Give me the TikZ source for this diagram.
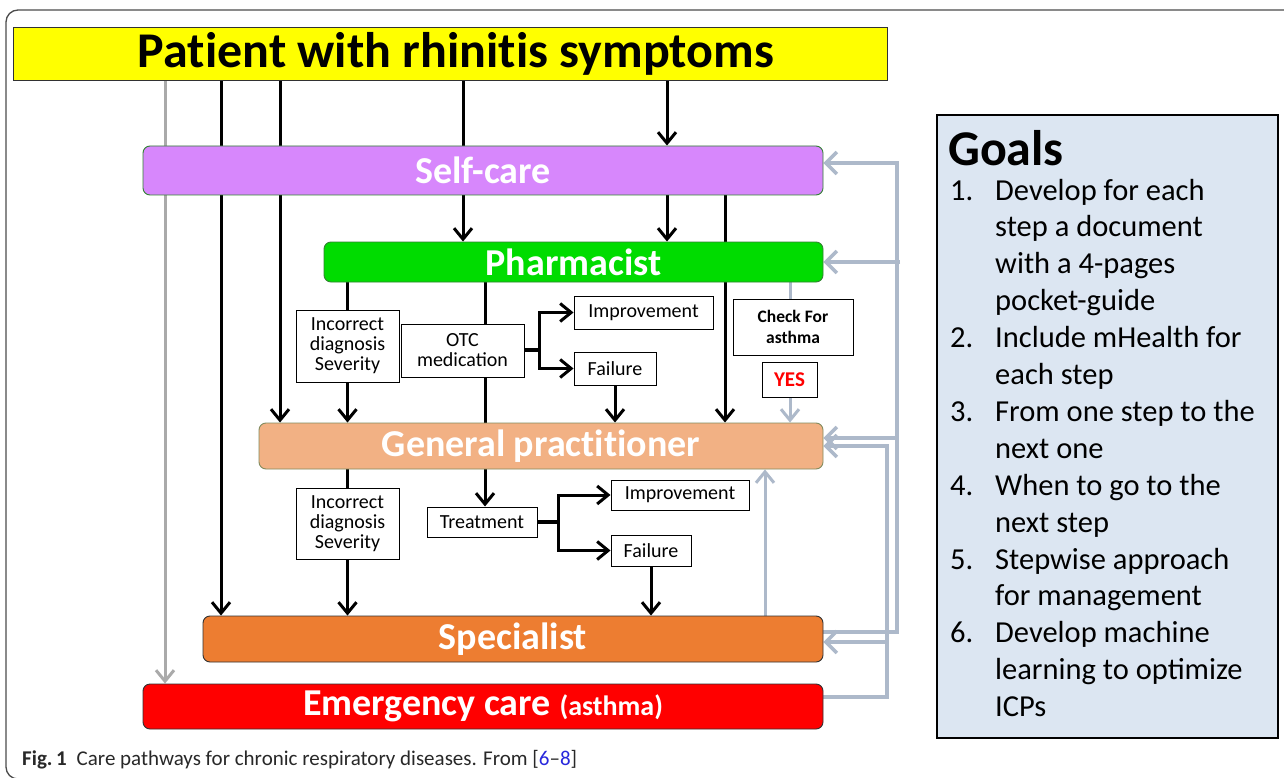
\documentclass[tikz,border=0pt]{standalone}
\usepackage{fontspec}
\setmainfont{Carlito}
\newfontfamily\noligfont{Carlito}[Ligatures=NoCommon]
\usetikzlibrary{arrows.meta,backgrounds}
\definecolor{ttl}{RGB}{255,255,0}
\definecolor{selfc}{RGB}{215,135,252}
\definecolor{pharmc}{RGB}{0,220,0}
\definecolor{gpc}{RGB}{242,177,132}
\definecolor{specc}{RGB}{237,125,49}
\definecolor{emergc}{RGB}{255,0,0}
\definecolor{lgray}{RGB}{170,170,170}
\definecolor{bgray}{RGB}{173,185,202}
\definecolor{goalc}{RGB}{220,230,242}
\definecolor{gborder}{RGB}{50,130,50}
\definecolor{gpborder}{RGB}{130,140,95}
\definecolor{dborder}{RGB}{50,50,50}
\definecolor{capc}{RGB}{40,40,40}
\definecolor{refc}{RGB}{40,40,220}
\begin{document}
\begin{tikzpicture}[x=1pt,y=-1pt,
  stage/.style={draw, rounded corners=7pt, line width=0.9pt, inner sep=0pt,
    font=\noligfont\fontsize{38}{40}\selectfont\bfseries, text=white},
  smallbox/.style={draw, line width=1pt, fill=white, inner sep=0pt, align=center,
    font=\fontsize{20}{20}\selectfont},
  blk/.style={line width=3pt, black},
  arr/.style={-{Straight Barb[length=11pt,width=18pt]}},
  gry/.style={line width=3pt, lgray},
  fb/.style={line width=3.5pt, bgray},
  fbarr/.style={-{Straight Barb[length=11pt,width=22pt]}}
]
\useasboundingbox (0,0) rectangle (1284,778);

% big stage boxes
\node[draw=dborder, line width=0.9pt, fill=ttl, inner sep=0pt, minimum width=874, minimum height=53,
  font=\noligfont\fontsize{50}{52}\selectfont\bfseries] (title) at (450,53.5) {\hspace{12pt}Patient with rhinitis symptoms};
\node[stage, fill=selfc, draw=gborder, minimum width=680, minimum height=49] (self) at (483,170.5) {Self-care};
\node[stage, fill=pharmc, draw=gborder, minimum width=499, minimum height=40] (pharm) at (573.5,262) {Pharmacist};
\node[stage, fill=gpc, draw=gpborder, minimum width=564, minimum height=46] (gp) at (541,446) {General practitioner};
\node[stage, fill=specc, draw=dborder, minimum width=620, minimum height=46] (spec) at (513,639) {Specialist};
\node[stage, fill=emergc, draw=dborder, minimum width=680, minimum height=45] (emerg) at (483,706.5)
  {Emergency care {\fontsize{28}{30}\selectfont (asthma)}};

% small boxes, first level
\node[smallbox, minimum width=103, minimum height=72] (inc1) at (347.5,346) {Incorrect\\diagnosis\\Severity};
\node[smallbox, minimum width=123, minimum height=53] (otc) at (462.5,350.5) {OTC\\medication};
\node[smallbox, minimum width=139, minimum height=33] (imp1) at (643.5,312.5) {Improvement};
\node[smallbox, minimum width=82, minimum height=33] (fail1) at (615,368.5) {Failure};
\node[smallbox, minimum width=120, minimum height=56, font=\fontsize{17.5}{21}\selectfont\bfseries] (chk) at (793,327) {Check For\\asthma};
\node[smallbox, minimum width=55, minimum height=35, font=\fontsize{21}{22}\selectfont\bfseries, text=emergc] (yes) at (789.5,379.5) {YES};

% small boxes, second level
\node[smallbox, minimum width=103, minimum height=71] (inc2) at (347.5,523.5) {Incorrect\\diagnosis\\Severity};
\node[smallbox, minimum width=110, minimum height=30] (treat) at (482,522) {Treatment};
\node[smallbox, minimum width=138, minimum height=30] (imp2) at (680,495) {Improvement};
\node[smallbox, minimum width=80, minimum height=31] (fail2) at (651,550.5) {Failure};

% goals
\node[draw=black, line width=1.6pt, fill=goalc, minimum width=341, minimum height=623, inner sep=0pt] (goals) at (1107.5,426.5) {};
\node[anchor=west, inner sep=0pt, font=\fontsize{50}{54}\selectfont\bfseries] (goalhead) at (948,148) {Goals};
\node[anchor=north west, inner sep=0pt, align=left, font=\fontsize{30.5}{36.9}\selectfont] (goallist) at (950,174)
{\begin{tabular}{@{}p{45pt}@{}l@{}}
1. & Develop for each\\
   & step a document\\
   & with a 4-pages\\
   & pocket-guide\\
2. & Include mHealth for\\
   & each step\\
3. & From one step to the\\
   & next one\\
4. & When to go to the\\
   & next step\\
5. & Stepwise approach\\
   & for management\\
6. & Develop machine\\
   & learning to optimize\\
   & ICPs
\end{tabular}};

% caption
\node[anchor=base west, inner sep=0pt, text=capc, font=\fontsize{21}{24}\selectfont] (caption) at (22,765)
  {\textbf{Fig.\,1}\hspace{10pt}Care pathways for chronic respiratory diseases. From [\textcolor{refc}{6}–\textcolor{refc}{8}]};

% column coordinates
\coordinate (xa) at (165,0);
\coordinate (xb) at (221,0);
\coordinate (xc) at (280,0);
\coordinate (xd) at (463,0);
\coordinate (xe) at (667,0);
\coordinate (xf) at (725,0);
\coordinate (xg) at (485,0);
\coordinate (xh) at (790,0);
\coordinate (xi) at (765,0);
\coordinate (br1) at (539,350);
\coordinate (br2) at (558,522);
\coordinate (fa) at (897,632);
\coordinate (fatop) at (897,163);
\coordinate (fb) at (887,697);
\coordinate (fbtop) at (887,446);

\begin{pgfonlayer}{background}
  \fill[white] (0,0) rectangle (1284,778);
  \draw[line width=1.3pt, black!70, rounded corners=12pt] (1300,10) -- (6,10) -- (6,779) -- (1300,779);

  % from patient
  \draw[gry, arr] (title.south -| xa) -- (emerg.north -| xa);
  \draw[blk, arr] (title.south -| xb) -- (spec.north -| xb);
  \draw[blk, arr] (title.south -| xc) -- (gp.north -| xc);
  \draw[blk] (title.south -| xd) -- (self.north -| xd);
  \draw[blk, arr] (title.south -| xe) -- (self.north -| xe);

  % from self-care
  \draw[blk, arr] (self.south -| xd) -- (pharm.north -| xd);
  \draw[blk, arr] (self.south -| xe) -- (pharm.north -| xe);
  \draw[blk, arr] (self.south -| xf) -- (gp.north -| xf);

  % from pharmacist
  \draw[blk] (pharm.south -| inc1.north) -- (inc1.north);
  \draw[blk, arr] (inc1.south) -- (gp.north -| inc1.south);
  \draw[blk] (pharm.south -| xg) -- (otc.north -| xg);
  \draw[blk] (otc.south -| xg) -- (gp.north -| xg);
  \draw[blk, line width=4pt] (otc.east |- br1) -- (br1);
  \draw[blk, arr] (br1) |- (imp1.west);
  \draw[blk, arr] (br1) |- (fail1.west);
  \draw[blk, arr] (fail1.south) -- (gp.north -| fail1.south);
  \draw[gry, bgray] (pharm.south -| xh) -- (chk.north -| xh);
  \draw[gry, bgray, arr] (yes.south -| xh) -- (gp.north -| xh);

  % from general practitioner
  \draw[blk] (gp.south -| inc2.north) -- (inc2.north);
  \draw[blk, arr] (inc2.south) -- (spec.north -| inc2.south);
  \draw[blk, arr] (gp.south -| xg) -- (treat.north -| xg);
  \draw[blk, line width=4pt] (treat.east |- br2) -- (br2);
  \draw[blk, arr] (br2) |- (imp2.west);
  \draw[blk, arr] (br2) |- (fail2.west);
  \draw[blk, arr] (fail2.south) -- (spec.north -| fail2.south);
  \draw[gry, bgray, arr] (spec.north -| xi) -- (gp.south -| xi);

  % feedback lines
  \draw[fb, fbarr] (spec.east |- fa) -- (fa) -- (fatop) -- (self.east |- fatop);
  \draw[fb, fbarr] (900,262) -- (pharm.east |- 0,262);
  \draw[fb, fbarr] (fa |- 0,438) -- (gp.east |- 0,438);
  \draw[fb, fbarr] (emerg.east |- fb) -- (fb) -- (fbtop) -- (gp.east |- fbtop);
  \draw[fb, fbarr] (fb |- 0,642) -- (spec.east |- 0,642);
\end{pgfonlayer}
\end{tikzpicture}
\end{document}
